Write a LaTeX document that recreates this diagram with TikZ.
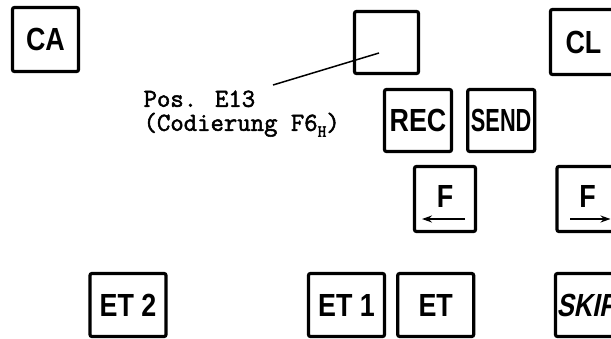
\documentclass[tikz,border=0pt]{standalone}
\usepackage{fontspec}
\newfontfamily\keyfont[FakeStretch=0.84]{Liberation Sans}
\newfontfamily\sendfont[FakeStretch=0.68]{Liberation Sans}
\newfontfamily\skipfont[FakeStretch=0.8,FakeSlant=0.2]{Liberation Sans}
\newfontfamily\posfont[FakeBold=2]{Latin Modern Mono}
\usetikzlibrary{positioning}
\usetikzlibrary{calc}
\usetikzlibrary{arrows.meta}

\begin{document}
\begin{tikzpicture}[x=1pt, y=-1pt, ->, >={Stealth[length=10pt,width=7pt]},
    line width=3.2pt,
    key/.style={draw, -, rounded corners=2pt, inner sep=0pt,
      minimum width=64pt, minimum height=63pt,
      font=\keyfont\bfseries\fontsize{32}{32}\selectfont},
    widekey/.style={key, minimum width=76pt}]
        \useasboundingbox (0,0) rectangle (611,338);

        \node [key, minimum width=66pt, minimum height=64pt] (ca) at (45.5,39.5) {CA};
        \node [key, minimum height=62pt] (e13) at (386.5,42.5) {};
        \node [key, minimum width=66pt, minimum height=65pt] (cl) at (583.5,42) {CL};

        \node [key, minimum width=67pt, minimum height=62pt] (rec) at (418,120.5) {REC};
        \node [key, minimum width=67pt, minimum height=62pt, right=13pt of rec,
            font=\sendfont\bfseries\fontsize{32}{32}\selectfont] (send) {SEND};

        \node [key, minimum width=61pt, minimum height=65pt, text depth=6pt] (fleft) at (445,199) {F};
        \node [key, minimum width=61pt, minimum height=65pt, text depth=6pt] (fright) at (587.5,199) {F};

        \node [widekey] (et2) at (128,305) {ET 2};
        \node [widekey] (et1) at (346.5,305) {ET 1};
        \node [widekey, right=10pt of et1] (et) {ET};
        \node [widekey, text width=75pt, inner xsep=1pt, align=left,
            font=\skipfont\bfseries\fontsize{32}{32}\selectfont] (skip) at (594,305) {SKIP};

        \node [font=\posfont\fontsize{26}{24}\selectfont, align=left,
            inner sep=0pt, anchor=north west] (pos) at (142,89)
            {Pos. E13\\(Codierung F6\raisebox{-6pt}{\fontsize{17}{17}\selectfont H})};

        \coordinate (lead) at (273,85);
        \coordinate (tip) at (379,53);
        \path (lead) edge[-, line width=1.5pt] (tip);

        \draw [line width=2.5pt] ($(fleft.center)+(20,20)$) -- ($(fleft.center)+(-23,20)$);
        \draw [line width=2.5pt] ($(fright.center)+(-17.5,20)$) -- ($(fright.center)+(23,20)$);
    \end{tikzpicture}
\end{document}
